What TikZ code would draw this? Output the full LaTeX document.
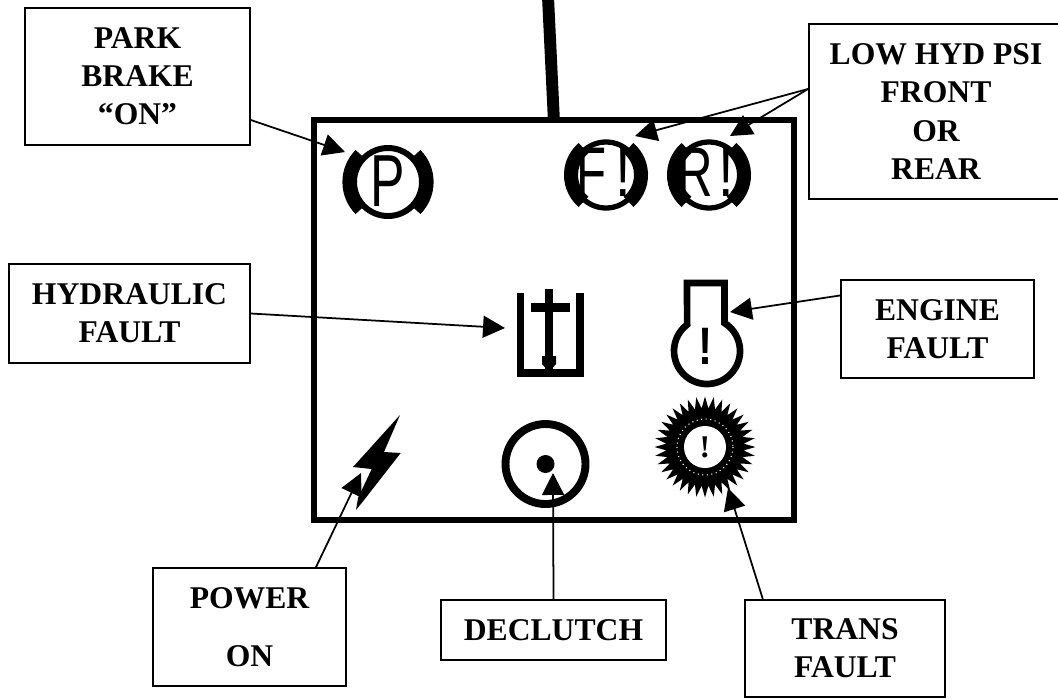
\documentclass[tikz,border=0pt]{standalone}
\usepackage{fontspec}
\setmainfont{Liberation Serif}
\newfontfamily\iconfont{Liberation Sans}
\usetikzlibrary{arrows.meta,shapes.geometric}

\tikzset{
  labelbox/.style={draw=black, line width=1pt, fill=white, inner sep=0pt, align=center,
                   font=\fontsize{18}{21.7}\selectfont\bfseries},
  pointer/.style={draw=black, line width=1pt, -{Triangle[length=12.5pt,width=12.5pt]}},
  iconletter/.style={inner sep=0pt, font=\fontsize{40}{40}\selectfont\iconfont},
  iconbang/.style={inner sep=0pt, font=\fontsize{30}{30}\selectfont\iconfont\bfseries},
}

\begin{document}
\begin{tikzpicture}[x=0.02cm, y=-0.02cm]
\useasboundingbox (0,0) rectangle (1058,698);

\node[draw, line width=3.4pt, minimum width=9.61cm, minimum height=8cm] (panel) at (553.75,320) {};
\coordinate (stemtop) at (548,-3);
\draw[line width=6.8pt] (stemtop) -- (panel.north);

\draw[line width=3.4pt] (388,182) circle[radius=34];
\draw[line width=7.5pt] (388,182) ++(135:39) arc[start angle=135, end angle=225, radius=39];
\draw[line width=7.5pt] (388,182) ++(45:39) arc[start angle=45, end angle=-45, radius=39];
\node[iconletter, font=\fontsize{42}{42}\selectfont\iconfont] (parkletter) at (388,181) {\scalebox{.7}[1]{P}};

\foreach \cx/\letter in {606/F, 709/R} {
  \draw[line width=3pt] (\cx,175) circle[radius=33];
  \draw[line width=8pt] (\cx,175) ++(130:35) arc[start angle=130, end angle=230, radius=35];
  \draw[line width=8pt] (\cx,175) ++(50:35) arc[start angle=50, end angle=-50, radius=35];
  \node[iconletter] at (\cx-14,172) {\scalebox{.7}[1]{\letter}};
  \node[iconletter] at (\cx+17,172) {\scalebox{.8}[1]{!}};
}

\draw[line width=4.5pt] (520.5,293) -- (520.5,373) -- (580,373) -- (580,293);
\draw[line width=4pt] (549,289) -- (549,370);
\draw[line width=5pt] (531,307.5) -- (570,307.5);
\fill (542,356) -- (556,356) -- (556,364) -- (549,372) -- (542,364) -- cycle;

\draw[line width=3.8pt] (724.5,283) -- (724.5,323) arc[start angle=-58, end angle=233, radius=33]
  -- (687,283) -- cycle;
\node[iconbang] (enginebang) at (706,346) {\scalebox{.8}[1]{!}};

\fill (400,415) -- (384,452) -- (400.7,453) -- (361.7,503) -- (356,510) -- (358,498)
  -- (371.7,469) -- (353,467) -- cycle;

\draw[line width=4.5pt] (545.5,464) circle[radius=40];
\fill (545.5,464) circle[radius=9];

\node[star, star points=36, star point ratio=1.3, fill=black, inner sep=0pt,
      minimum size=2.02cm] (transstar) at (705,447) {};
\draw[white, line width=.6pt, dotted] (transstar.center) circle[radius=28];
\node[circle, fill=white, inner sep=0pt, minimum size=.84cm, font=\fontsize{18}{18}\selectfont\bfseries]
  (transbang) at (transstar.center) {!};

\node[labelbox, minimum width=4.5cm, minimum height=2.74cm] (parkbox) at (137.5,76.5)
  {PARK\\BRAKE\\“ON”};
\node[labelbox, minimum width=5.08cm, minimum height=3.5cm] (lowbox) at (936,111.5)
  {LOW HYD PSI\\FRONT\\OR\\REAR};
\node[labelbox, minimum width=4.82cm, minimum height=1.98cm] (hydbox) at (129.5,313.5)
  {HYDRAULIC\\FAULT};
\node[labelbox, minimum width=3.86cm, minimum height=1.96cm] (enginebox) at (937.5,329)
  {ENGINE\\FAULT};
\node[labelbox, minimum width=3.86cm, minimum height=2.36cm] (powerbox) at (249.5,627)
  {POWER\\[11pt]ON};
\node[labelbox, minimum width=4.5cm, minimum height=1.2cm] (declutchbox) at (553.5,630)
  {DECLUTCH};
\node[labelbox, minimum width=4cm, minimum height=1.94cm] (transbox) at (845,648.5)
  {TRANS\\FAULT};

\coordinate (parktip) at (345,152);
\coordinate (fronttip) at (635,136);
\coordinate (reartip) at (730,136);
\coordinate (hydtip) at (505,328);
\coordinate (enginetip) at (730,312);
\coordinate (powertip) at (361,473);
\coordinate (declutchtip) at (553,473);
\coordinate (transtip) at (728,488);

\draw[pointer] (parkbox.-21.1) -- (parktip);
\draw[pointer] (lowbox.170) -- (fronttip);
\draw[pointer] (lowbox.170) -- (reartip);
\draw[pointer] (hydbox.0.7) -- (hydtip);
\draw[pointer] (enginebox.161.1) -- (enginetip);
\draw[pointer] (powerbox.42.9) -- (powertip);
\draw[pointer] (declutchbox.north) -- (declutchtip);
\draw[pointer] (transbox.149.7) -- (transtip);
\end{tikzpicture}
\end{document}
